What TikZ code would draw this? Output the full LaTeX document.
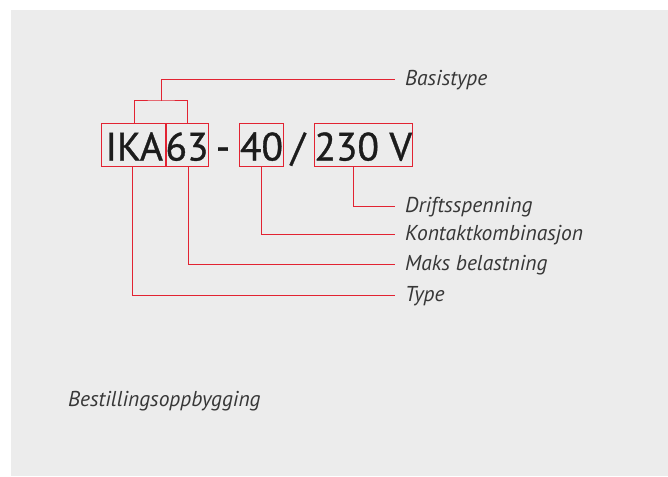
\documentclass[tikz,border=0pt]{standalone}
\usepackage{fontspec}
\setmainfont{PT Sans}
\newfontfamily\bigfont[FakeBold=0.9]{PT Sans}
\usepackage{tikz}
\usetikzlibrary{positioning}
\definecolor{cred}{RGB}{226, 35, 50}
\definecolor{cgray}{RGB}{236, 236, 236}
\definecolor{ctext}{RGB}{55, 55, 55}
\definecolor{cbig}{RGB}{28, 28, 28}

\tikzset{
  bigtext/.style={inner sep=0pt, text height=31pt, text depth=0pt, text=cbig,
    font=\bigfont\fontsize{39.5}{46}\selectfont},
  partbox/.style={bigtext, draw=cred, line width=1pt, minimum height=43.4pt},
  label/.style={anchor=west, inner xsep=10pt, inner ysep=0pt, text height=12pt,
    text depth=0pt, text=ctext, font=\fontsize{21.5}{24}\selectfont\itshape},
  link/.style={draw=cred, line width=1pt}
}

\begin{document}
\begin{tikzpicture}[x=1pt, y=-1pt]
  \useasboundingbox (0, 0) rectangle (668, 476);
  \fill [cgray] (11, 10) rectangle (668, 476);

  % order code
  \node [partbox, draw=cred, minimum width=65pt] (ika) at (134.2, 145) {IKA};
  \node [partbox, draw=cred, minimum width=40.6pt] (n63) at (187, 145) {63};
  \node [bigtext] (dash) at (223, 145) {-};
  \node [partbox, draw=cred, minimum width=42.4pt] (n40) at (261.5, 145) {40};
  \node [bigtext] (slash) at (298, 145) {/};
  \node [partbox, draw=cred, minimum width=98.3pt] (v230) at (363.2, 145) {230 V};

  % labels
  \node [label] (lbasis) at (395, 80) {Basistype};
  \node [label] (ldrift) at (395, 206) {Driftsspenning};
  \node [label] (lkontakt) at (395, 234.7) {Kontaktkombinasjon};
  \node [label] (lmaks) at (395, 264) {Maks belastning};
  \node [label] (ltype) at (395, 295) {Type};

  % connectors
  \coordinate (basis) at (161.5, 101);
  \draw [link] (ika.north) |- (basis) -| (n63.north);
  \draw [link] (basis) |- (lbasis.west);
  \draw [link] ([xshift=-10pt]v230.south) |- (ldrift.west);
  \draw [link] (n40.south) |- (lkontakt.west);
  \draw [link] ([xshift=1pt]n63.south) |- (lmaks.west);
  \draw [link] ([xshift=-2pt]ika.south) |- (ltype.west);

  \node [anchor=base west, inner sep=0pt, text=ctext,
    font=\fontsize{21.5}{24}\selectfont\itshape] (title) at (68, 406) {Bestillingsoppbygging};
\end{tikzpicture}
\end{document}
